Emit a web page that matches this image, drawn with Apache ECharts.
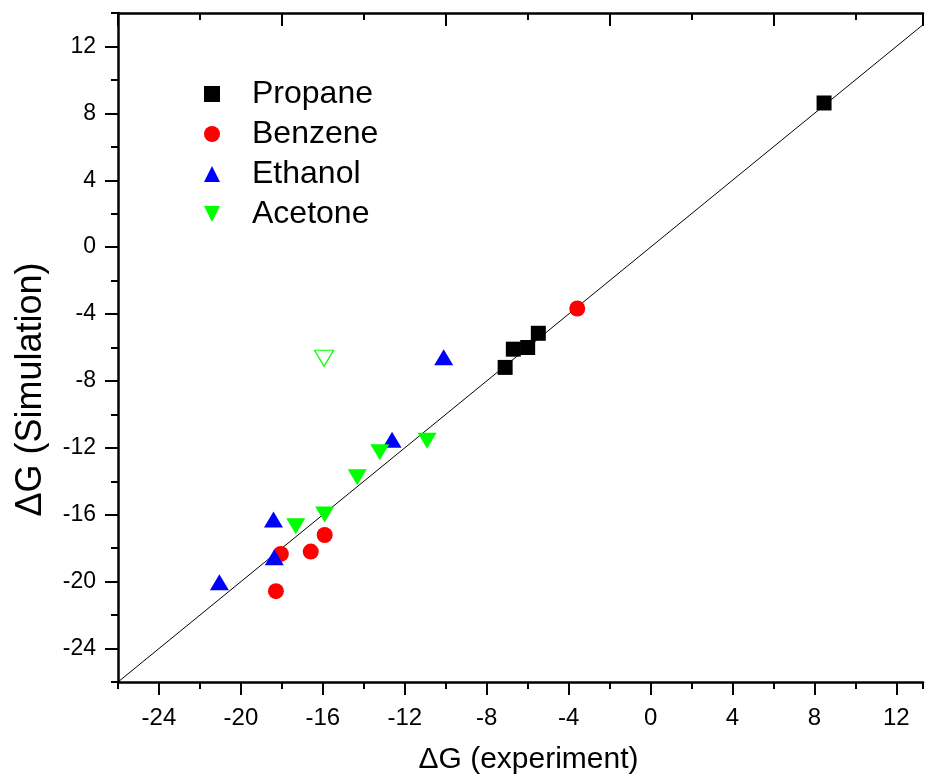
<!DOCTYPE html>
<html>
<head>
<meta charset="utf-8">
<script src="https://cdn.jsdelivr.net/npm/echarts@6/dist/echarts.min.js"></script>
<style>
  html, body { margin: 0; padding: 0; background: #fff; }
  #chart { width: 926px; height: 780px; }
</style>
</head>
<body>
<div id="chart"></div>
<script>
  // axis ranges
  const xMin = -26, xMax = 13.3;
  const yMin = -26, yMax = 14;

  // [dG experiment, dG simulation]
  const propane = [[8.47, 8.62], [-5.48, -5.15], [-6.0, -6.0], [-6.7, -6.1], [-7.1, -7.19]];
  const benzene = [[-3.58, -3.67], [-18.05, -18.34], [-16.59, -18.2], [-15.91, -17.21], [-18.29, -20.57]];
  const ethanol = [[-10.1, -6.58], [-12.62, -11.52], [-18.41, -16.29], [-18.37, -18.54], [-21.05, -20.03]];
  const acetone = [[-10.91, -11.58], [-13.22, -12.27], [-14.32, -13.76], [-15.91, -15.99], [-17.32, -16.69]];
  const acetoneOpen = [[-15.94, -6.64]];
  const diagonal = [[xMin, xMin], [xMax, xMax]];

  const names = ['Propane', 'Benzene', 'Ethanol', 'Acetone'];

  const font = 'Liberation Sans, Arial, sans-serif';
  const black = {color: '#000', width: 2};
  const axisLine = {show: true, onZero: false, lineStyle: {color: '#000', width: 2.5}};
  const labelFmt = v => (v % 4 === 0 ? String(v) : '');
  const downTriangle = 'path://M0,0 L2,0 L1,2 Z';

  const chart = echarts.init(document.getElementById('chart'));
  chart.setOption({
    animation: false,
    backgroundColor: '#fff',
    grid: {left: 118, right: 0, top: 13, bottom: 97},
    legend: {
      orient: 'vertical', left: 199, top: 73,
      itemWidth: 16, itemHeight: 16, itemGap: 8,
      data: names.map(n => (n === 'Acetone' ? {name: n, icon: downTriangle} : n)),
      textStyle: {fontFamily: font, fontSize: 32, color: '#000', lineHeight: 32, padding: [0, 0, 0, 27]}
    },
    xAxis: [
      {
        type: 'value', position: 'bottom', min: xMin, max: xMax, interval: 2,
        axisLine: axisLine, axisTick: {show: false}, splitLine: {show: false},
        axisLabel: {margin: 24, fontFamily: font, fontSize: 24, color: '#000', formatter: labelFmt},
        name: 'ΔG (experiment)', nameLocation: 'middle', nameGap: 63,
        nameTextStyle: {fontFamily: font, fontSize: 30, color: '#000', padding: [0, 0, 0, 16]}
      },
      {
        // bottom ticks
        type: 'value', position: 'bottom', min: xMin, max: xMax, interval: 4,
        axisLine: {show: false, onZero: false}, axisLabel: {show: false}, splitLine: {show: false},
        axisTick: {show: true, length: 7, lineStyle: black},
        minorTick: {show: true, splitNumber: 2, length: 13, lineStyle: black}
      },
      {
        // top axis
        type: 'value', position: 'top', min: xMin, max: xMax, interval: 8,
        axisLine: axisLine, axisLabel: {show: false}, splitLine: {show: false},
        axisTick: {show: true, inside: true, length: 13, lineStyle: black},
        minorTick: {show: true, splitNumber: 2, length: 7, lineStyle: black}
      }
    ],
    yAxis: [
      {
        type: 'value', position: 'left', min: yMin, max: yMax, interval: 2,
        axisLine: axisLine, axisTick: {show: false}, splitLine: {show: false},
        axisLabel: {margin: 22, fontFamily: font, fontSize: 23, color: '#000', formatter: labelFmt},
        name: 'ΔG (Simulation)', nameLocation: 'middle', nameGap: 69,
        nameTextStyle: {fontFamily: font, fontSize: 36, color: '#000', padding: [0, 84, 0, 0]}
      },
      {
        type: 'value', position: 'left', min: yMin, max: yMax, interval: 4,
        axisLine: {show: false, onZero: false}, axisLabel: {show: false}, splitLine: {show: false},
        axisTick: {show: true, length: 7, lineStyle: black},
        minorTick: {show: true, splitNumber: 2, length: 13, lineStyle: black}
      }
    ],
    series: [
      {
        type: 'line', data: diagonal, showSymbol: false, symbol: 'none', silent: true, z: 1,
        lineStyle: {color: '#000', width: 1}
      },
      {name: 'Propane', type: 'scatter', data: propane, symbol: 'rect', symbolSize: 15, itemStyle: {color: '#000', opacity: 1}},
      {name: 'Benzene', type: 'scatter', data: benzene, symbol: 'circle', symbolSize: 16, itemStyle: {color: '#ff0000', opacity: 1}},
      {name: 'Ethanol', type: 'scatter', data: ethanol, symbol: 'triangle', symbolSize: [19, 16], itemStyle: {color: '#0000ff', opacity: 1}},
      {name: 'Acetone', type: 'scatter', data: acetone, symbol: 'triangle', symbolRotate: 180, symbolSize: [19, 16], itemStyle: {color: '#00ff00', opacity: 1}},
      {
        name: 'Acetone open', type: 'scatter', data: acetoneOpen, symbol: 'triangle', symbolRotate: 180, symbolSize: [19, 16],
        itemStyle: {color: '#fff', borderColor: '#00ff00', borderWidth: 1.2, opacity: 1}
      }
    ]
  });
</script>
</body>
</html>
